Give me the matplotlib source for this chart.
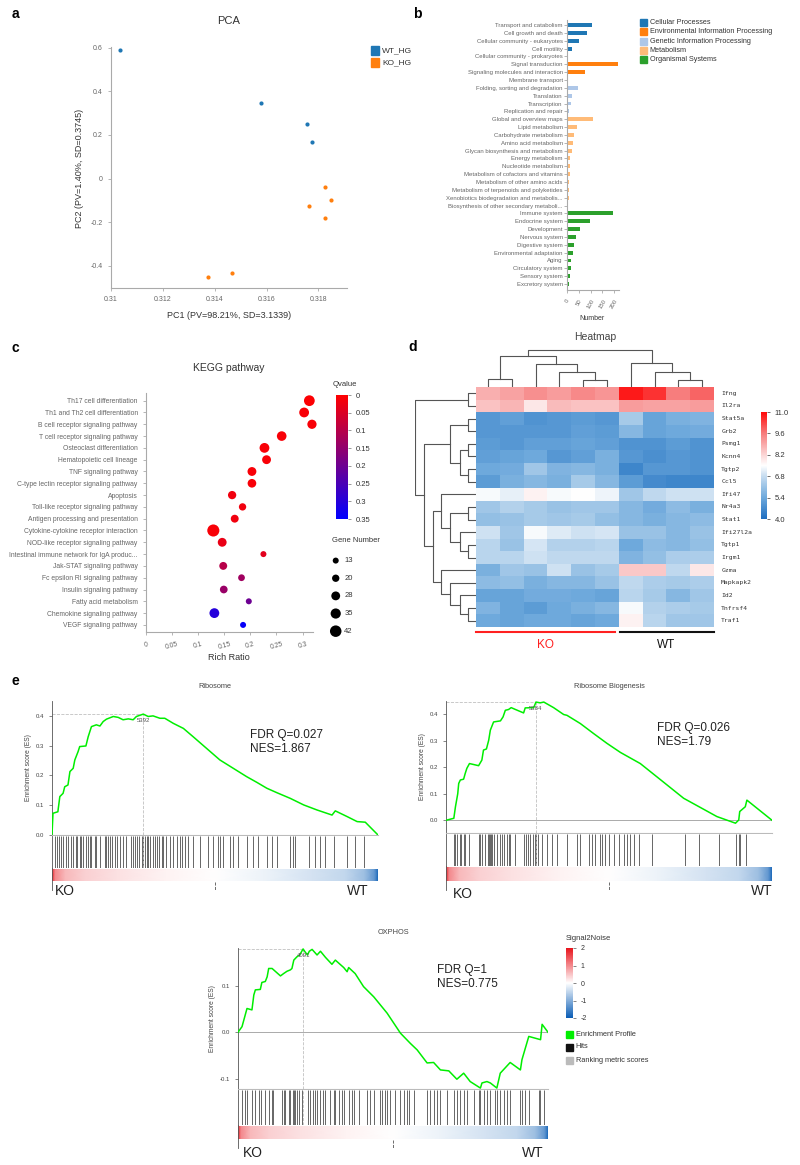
import numpy as np
import matplotlib
matplotlib.use("Agg")
import matplotlib.pyplot as plt
from matplotlib.colors import LinearSegmentedColormap, Normalize
from matplotlib.patches import Rectangle
from matplotlib.lines import Line2D
from matplotlib.cm import ScalarMappable

plt.rcParams['font.family'] = ['Liberation Sans', 'DejaVu Sans']
plt.rcParams['axes.unicode_minus'] = False

# ---------------- data ----------------
# a: PCA
wt_pc1 = [0.31035, 0.31578, 0.31757, 0.31774]
wt_pc2 = [0.588, 0.347, 0.249, 0.167]
ko_pc1 = [0.31825, 0.31848, 0.31763, 0.31825, 0.31375, 0.31465]
ko_pc2 = [-0.040, -0.099, -0.126, -0.179, -0.453, -0.432]
pc1_ticks = [0.31, 0.312, 0.314, 0.316, 0.318]
pc1_labels = ['0.31', '0.312', '0.314', '0.316', '0.318']
pc2_ticks = [-0.4, -0.2, 0, 0.2, 0.4, 0.6]
pc2_labels = ['-0.4', '-0.2', '0', '0.2', '0.4', '0.6']

# b: KEGG level 2 classification
l2_classes = ['Cellular Processes', 'Environmental Information Processing',
              'Genetic Information Processing', 'Metabolism', 'Organismal Systems']
class_colors = ['#1f77b4', '#ff7f0e', '#aec7e8', '#ffbb78', '#2ca02c']
l2_names = ['Transport and catabolism', 'Cell growth and death', 'Cellular community - eukaryotes',
            'Cell motility', 'Cellular community - prokaryotes', 'Signal transduction',
            'Signaling molecules and interaction', 'Membrane transport',
            'Folding, sorting and degradation', 'Translation', 'Transcription',
            'Replication and repair', 'Global and overview maps', 'Lipid metabolism',
            'Carbohydrate metabolism', 'Amino acid metabolism', 'Glycan biosynthesis and metabolism',
            'Energy metabolism', 'Nucleotide metabolism', 'Metabolism of cofactors and vitamins',
            'Metabolism of other amino acids', 'Metabolism of terpenoids and polyketides',
            'Xenobiotics biodegradation and metabolis...', 'Biosynthesis of other secondary metaboli...',
            'Immune system', 'Endocrine system', 'Development', 'Nervous system', 'Digestive system',
            'Environmental adaptation', 'Aging', 'Circulatory system', 'Sensory system',
            'Excretory system']
l2_counts = [107, 85, 50, 21, 2, 216, 77, 5, 46, 21, 18, 10, 109, 42, 28, 24, 21, 14, 13, 13,
             8, 8, 7, 5, 193, 98, 53, 38, 31, 25, 18, 15, 13, 10]
l2_class = [0] * 5 + [1] * 3 + [2] * 4 + [3] * 12 + [4] * 10

# c: KEGG enrichment bubble
kegg_path = ['Th17 cell differentiation', 'Th1 and Th2 cell differentiation',
             'B cell receptor signaling pathway', 'T cell receptor signaling pathway',
             'Osteoclast differentiation', 'Hematopoietic cell lineage', 'TNF signaling pathway',
             'C-type lectin receptor signaling pathway', 'Apoptosis',
             'Toll-like receptor signaling pathway', 'Antigen processing and presentation',
             'Cytokine-cytokine receptor interaction', 'NOD-like receptor signaling pathway',
             'Intestinal immune network for IgA produc...', 'Jak-STAT signaling pathway',
             'Fc epsilon RI signaling pathway', 'Insulin signaling pathway', 'Fatty acid metabolism',
             'Chemokine signaling pathway', 'VEGF signaling pathway']
rich_ratio = [0.313, 0.303, 0.318, 0.260, 0.227, 0.231, 0.203, 0.203, 0.165, 0.185, 0.170,
              0.129, 0.146, 0.225, 0.148, 0.183, 0.149, 0.197, 0.131, 0.186]
qvalue = [0.005, 0.01, 0.01, 0.01, 0.01, 0.01, 0.01, 0.01, 0.02, 0.02, 0.02, 0.01, 0.03, 0.04,
          0.10, 0.13, 0.14, 0.20, 0.30, 0.34]
gene_num = [38, 33, 30, 32, 33, 28, 28, 27, 25, 20, 23, 45, 28, 13, 23, 17, 22, 13, 33, 13]
size_legend = [13, 20, 28, 35, 42]
rich_ticks = [0, 0.05, 0.1, 0.15, 0.2, 0.25, 0.3]
q_ticks = [0, 0.05, 0.1, 0.15, 0.2, 0.25, 0.3, 0.35]

# d: heatmap (6 KO + 4 WT samples)
genes = ['Ifng', 'Il2ra', 'Stat5a', 'Grb2', 'Psmg1', 'Kcnn4', 'Tgtp2', 'Ccl5', 'Ifi47', 'Nr4a3',
         'Stat1', 'Ifi27l2a', 'Tgtp1', 'Irgm1', 'Gzma', 'Mapkapk2', 'Id2', 'Tnfrsf4', 'Traf1']
expr = [
    [8.8, 9.0, 9.3, 9.1, 9.4, 9.2, 10.8, 10.5, 9.6, 9.9],
    [8.5, 8.7, 7.9, 8.6, 8.5, 8.5, 9.1, 9.0, 9.0, 9.1],
    [5.0, 5.2, 4.9, 5.0, 5.1, 5.0, 6.3, 5.3, 5.6, 5.7],
    [5.0, 5.0, 5.0, 5.0, 5.2, 5.1, 5.8, 5.3, 5.4, 5.5],
    [5.1, 5.0, 5.2, 5.2, 5.3, 5.2, 4.9, 4.9, 5.1, 4.9],
    [5.2, 5.3, 5.4, 5.0, 5.2, 5.6, 5.0, 4.8, 5.0, 4.9],
    [5.4, 5.5, 6.2, 5.7, 5.8, 5.6, 4.6, 5.0, 5.0, 4.9],
    [5.1, 5.6, 5.8, 5.6, 6.3, 5.8, 5.1, 4.7, 4.6, 4.6],
    [7.4, 7.2, 7.7, 7.4, 7.5, 7.3, 6.2, 6.7, 6.9, 6.9],
    [6.2, 6.5, 6.3, 6.1, 6.2, 6.2, 5.8, 5.5, 5.9, 5.6],
    [6.0, 6.1, 6.3, 6.2, 6.3, 6.0, 5.8, 5.6, 5.8, 5.9],
    [6.9, 6.2, 7.4, 7.1, 6.9, 7.0, 6.1, 6.1, 5.8, 6.1],
    [6.6, 6.1, 7.0, 6.5, 6.5, 6.6, 5.4, 5.9, 5.8, 6.0],
    [6.6, 6.6, 6.9, 6.7, 6.7, 6.7, 5.7, 6.0, 6.4, 6.4],
    [5.6, 6.2, 6.1, 6.9, 6.1, 6.3, 8.4, 8.4, 6.7, 7.9],
    [5.9, 6.0, 5.6, 5.8, 5.8, 6.1, 6.7, 6.4, 6.3, 6.4],
    [5.3, 5.3, 5.5, 5.5, 5.4, 5.3, 6.6, 6.3, 5.8, 6.2],
    [5.7, 5.3, 5.1, 5.4, 5.6, 5.8, 7.4, 6.5, 6.4, 6.3],
    [5.4, 5.3, 5.4, 5.4, 5.3, 5.4, 7.7, 6.6, 6.2, 6.2],
]
# linkage (left, right, height); new clusters numbered from n upward
row_links = [(0, 1, 23), (2, 3, 23), (4, 5, 23), (6, 7, 23), (21, 22, 48), (20, 23, 76),
             (9, 10, 23), (12, 13, 23), (11, 26, 48), (25, 27, 76), (8, 28, 103),
             (17, 18, 23), (16, 30, 48), (15, 31, 76), (14, 32, 103), (29, 33, 128),
             (24, 34, 153), (19, 35, 180)]
col_links = [(0, 1, 24), (4, 5, 22), (3, 11, 44), (2, 12, 67), (10, 13, 92),
             (8, 9, 22), (7, 15, 44), (6, 16, 72), (14, 17, 110)]
hm_ticks = [4.0, 5.4, 6.8, 8.2, 9.6, 11.0]

# e: GSEA
rank_pos = [0, 0.01, 0.04, 0.1, 0.2, 0.35, 0.5, 0.65, 0.8, 0.9, 0.96, 0.99, 1.0]
rank_s2n = [1.8, 1.0, 0.6, 0.4, 0.25, 0.1, 0.0, -0.15, -0.35, -0.5, -0.8, -1.3, -1.9]

ribo_x = [0, 0.003, 0.018, 0.024, 0.034, 0.039, 0.049, 0.055, 0.065, 0.070, 0.080, 0.085, 0.104,
          0.111, 0.121, 0.136, 0.147, 0.157, 0.167, 0.188, 0.203, 0.218, 0.234, 0.249, 0.259,
          0.280, 0.295, 0.310, 0.331, 0.346, 0.372, 0.403, 0.433, 0.474, 0.515, 0.556, 0.597,
          0.628, 0.659, 0.690, 0.731, 0.772, 0.813, 0.859, 0.869, 0.905, 0.936, 0.961, 1.0]
ribo_es = [0, 0.073, 0.078, 0.129, 0.14, 0.162, 0.168, 0.213, 0.224, 0.252, 0.28, 0.297, 0.299,
           0.33, 0.364, 0.37, 0.366, 0.381, 0.389, 0.398, 0.395, 0.387, 0.39, 0.387, 0.398,
           0.406, 0.398, 0.40, 0.392, 0.392, 0.375, 0.358, 0.33, 0.291, 0.252, 0.224, 0.196,
           0.177, 0.157, 0.142, 0.123, 0.101, 0.084, 0.067, 0.081, 0.062, 0.045, 0.043, 0.0]
ribo_hits = [0.008, 0.015, 0.022, 0.029, 0.034, 0.044, 0.049, 0.059, 0.065, 0.073, 0.077, 0.085,
             0.090, 0.095, 0.103, 0.111, 0.116, 0.121, 0.131, 0.136, 0.147, 0.162, 0.167, 0.172,
             0.177, 0.185, 0.193, 0.198, 0.208, 0.218, 0.228, 0.241, 0.249, 0.254, 0.261, 0.267,
             0.275, 0.280, 0.285, 0.290, 0.295, 0.302, 0.310, 0.316, 0.321, 0.329, 0.336, 0.341,
             0.351, 0.362, 0.372, 0.382, 0.392, 0.398, 0.408, 0.418, 0.433, 0.454, 0.480, 0.495,
             0.510, 0.515, 0.526, 0.546, 0.556, 0.572, 0.597, 0.618, 0.633, 0.659, 0.674, 0.690,
             0.731, 0.739, 0.746, 0.787, 0.807, 0.823, 0.838, 0.864, 0.905, 0.930, 0.956]

bio_x = [0, 0.024, 0.029, 0.036, 0.039, 0.044, 0.054, 0.059, 0.064, 0.072, 0.100, 0.110, 0.115,
         0.124, 0.131, 0.136, 0.146, 0.167, 0.175, 0.182, 0.192, 0.200, 0.213, 0.238, 0.243,
         0.269, 0.276, 0.289, 0.300, 0.330, 0.361, 0.371, 0.412, 0.453, 0.494, 0.535, 0.596,
         0.657, 0.729, 0.831, 0.888, 0.898, 0.901, 0.918, 0.923, 1.0]
bio_es = [0, 0.0075, 0.051, 0.10, 0.139, 0.152, 0.155, 0.177, 0.196, 0.214, 0.206, 0.227, 0.265,
          0.269, 0.302, 0.34, 0.371, 0.375, 0.39, 0.415, 0.418, 0.425, 0.418, 0.405, 0.424,
          0.425, 0.446, 0.443, 0.446, 0.425, 0.399, 0.396, 0.365, 0.327, 0.29, 0.256, 0.214,
          0.154, 0.083, 0.014, -0.011, 0.001, 0.033, 0.051, 0.076, 0.0]
bio_hits = [0.024, 0.029, 0.034, 0.042, 0.046, 0.054, 0.059, 0.070, 0.100, 0.105, 0.110, 0.121,
            0.128, 0.131, 0.134, 0.138, 0.141, 0.146, 0.156, 0.167, 0.172, 0.177, 0.187, 0.193,
            0.197, 0.213, 0.240, 0.246, 0.252, 0.259, 0.266, 0.272, 0.276, 0.282, 0.294, 0.310,
            0.325, 0.340, 0.371, 0.402, 0.412, 0.438, 0.448, 0.458, 0.473, 0.479, 0.489, 0.499,
            0.514, 0.530, 0.547, 0.555, 0.565, 0.576, 0.591, 0.632, 0.734, 0.775, 0.836, 0.890,
            0.898, 0.903, 0.921]

ox_x = [0, 0.013, 0.029, 0.045, 0.051, 0.056, 0.072, 0.077, 0.088, 0.094, 0.099, 0.110, 0.137,
        0.147, 0.158, 0.169, 0.174, 0.180, 0.190, 0.199, 0.210, 0.216, 0.224, 0.230, 0.239,
        0.255, 0.266, 0.282, 0.303, 0.314, 0.341, 0.352, 0.357, 0.378, 0.405, 0.438, 0.481,
        0.524, 0.556, 0.578, 0.610, 0.631, 0.653, 0.680, 0.706, 0.728, 0.749, 0.782, 0.787,
        0.803, 0.814, 0.835, 0.846, 0.878, 0.911, 0.916, 0.938, 0.976, 0.981, 1.0]
ox_es = [0, 0.012, 0.051, 0.048, 0.08, 0.091, 0.092, 0.107, 0.109, 0.119, 0.137, 0.137, 0.121,
         0.126, 0.131, 0.134, 0.137, 0.155, 0.162, 0.166, 0.179, 0.173, 0.166, 0.174, 0.178,
         0.166, 0.174, 0.161, 0.146, 0.155, 0.139, 0.13, 0.139, 0.126, 0.098, 0.076, 0.041,
         -0.002, -0.024, -0.038, -0.066, -0.065, -0.081, -0.083, -0.101, -0.088, -0.106,
         -0.12, -0.109, -0.106, -0.109, -0.12, -0.088, -0.065, -0.081, -0.059, -0.009,
         -0.016, 0.017, 0.0]
ox_hits = [0.013, 0.024, 0.029, 0.045, 0.056, 0.067, 0.074, 0.088, 0.099, 0.110, 0.113, 0.142,
           0.147, 0.153, 0.163, 0.169, 0.177, 0.182, 0.185, 0.190, 0.197, 0.206, 0.225, 0.233,
           0.242, 0.249, 0.255, 0.266, 0.273, 0.282, 0.298, 0.309, 0.314, 0.325, 0.335, 0.343,
           0.357, 0.368, 0.373, 0.389, 0.416, 0.427, 0.438, 0.459, 0.465, 0.475, 0.481, 0.491,
           0.508, 0.524, 0.534, 0.545, 0.551, 0.567, 0.610, 0.620, 0.631, 0.642, 0.653, 0.674,
           0.696, 0.706, 0.717, 0.728, 0.739, 0.760, 0.776, 0.782, 0.792, 0.803, 0.814, 0.830,
           0.835, 0.846, 0.857, 0.868, 0.878, 0.911, 0.916, 0.927, 0.938, 0.970, 0.975, 0.986]

# ---------------- layout helpers ----------------
W, H = 800, 1165
fig = plt.figure(figsize=(W / 100, H / 100), dpi=100)


def add_ax(l, t, r, b):
    return fig.add_axes([l / W, 1 - b / H, (r - l) / W, (b - t) / H])


def ftext(x, y, s, **kw):
    kw.setdefault('ha', 'center')
    kw.setdefault('va', 'center')
    return fig.text(x / W, 1 - y / H, s, **kw)


def square(x, y, size, color, label, fs, gap=3):
    fig.add_artist(Rectangle((x / W, 1 - (y + size / 2) / H), size / W, size / H,
                             color=color, transform=fig.transFigure))
    ftext(x + size + gap, y, label, ha='left', fontsize=fs, color='#333333')


def fline(x0, y0, x1, y1, **kw):
    fig.add_artist(Line2D([x0 / W, x1 / W], [1 - y0 / H, 1 - y1 / H],
                          transform=fig.transFigure, **kw))


def gray_axes(ax, labelsize=5):
    for s in ['top', 'right']:
        ax.spines[s].set_visible(False)
    for s in ['left', 'bottom']:
        ax.spines[s].set_color('#aaaaaa')
        ax.spines[s].set_linewidth(0.8)
    ax.tick_params(colors='#aaaaaa', labelcolor='#666666', labelsize=labelsize,
                   length=2.5, width=0.6)


for lab, x, y in [('a', 12, 14), ('b', 413, 14), ('c', 12, 348), ('d', 408, 347), ('e', 12, 681)]:
    ftext(x, y, lab, ha='left', fontsize=10, fontweight='bold')

# ---------------- a: PCA ----------------
ax = add_ax(111, 47, 347, 288)
ax.scatter(wt_pc1, wt_pc2, s=9, color='#1f77b4', linewidths=0, zorder=3)
ax.scatter(ko_pc1, ko_pc2, s=9, color='#ff7f0e', linewidths=0, zorder=3)
ax.set_xlim(0.31, 0.3191)
ax.set_ylim(-0.502, 0.603)
ax.set_xticks(pc1_ticks)
ax.set_xticklabels(pc1_labels)
ax.set_yticks(pc2_ticks)
ax.set_yticklabels(pc2_labels)
gray_axes(ax, 5)
ftext(229, 21, 'PCA', fontsize=8, color='#333333')
ftext(79, 168, 'PC2 (PV=1.40%, SD=0.3745)', rotation=90, fontsize=6.5, color='#333333')
ftext(229, 316, 'PC1 (PV=98.21%, SD=3.1339)', fontsize=6.5, color='#333333')
square(371, 50.5, 8, '#1f77b4', 'WT_HG', 6)
square(371, 62.5, 8, '#ff7f0e', 'KO_HG', 6)

# ---------------- b: KEGG classification ----------------
ax = add_ax(567, 20, 619, 290)
yy = np.arange(len(l2_names))
ax.barh(yy, l2_counts, height=0.5, color=[class_colors[c] for c in l2_class])
ax.set_ylim(33.76, -0.64)
ax.set_xlim(0, 220)
ax.set_yticks(yy)
ax.set_yticklabels(l2_names)
ax.set_xticks([0, 50, 100, 150, 200])
gray_axes(ax, 4.3)
ax.tick_params(axis='y', length=2, pad=1)
plt.setp(ax.get_xticklabels(), rotation=60, ha='center', va='top')
ftext(592, 318, 'Number', fontsize=5, color='#333333')
for i, name in enumerate(l2_classes):
    square(640, 22.7 + i * 9.25, 7, class_colors[i], name, 5.2, gap=2.5)

# ---------------- c: KEGG enrichment ----------------
q_cmap = LinearSegmentedColormap.from_list('q', ['#ff0000', '#0000ff'])
q_norm = Normalize(0, 0.35)


def bubble(n):
    return ((6 + (n - 13) * 0.19) * 0.72) ** 2


ax = add_ax(146, 393, 313, 632)
yy = np.arange(len(kegg_path))
ax.scatter(rich_ratio, yy, s=[bubble(n) for n in gene_num], c=qvalue, cmap=q_cmap,
           norm=q_norm, linewidths=0, zorder=3, clip_on=False)
ax.set_xlim(0, 0.32)
ax.set_ylim(19.6, -0.65)
ax.set_yticks(yy)
ax.set_yticklabels(kegg_path)
ax.set_xticks(rich_ticks)
ax.set_xticklabels(['0', '0.05', '0.1', '0.15', '0.2', '0.25', '0.3'])
gray_axes(ax, 4.9)
ax.tick_params(axis='x', pad=4)
plt.setp(ax.get_xticklabels(), rotation=15)
ftext(229, 368, 'KEGG pathway', fontsize=7.5, color='#333333')
ftext(229, 658, 'Rich Ratio', fontsize=6.5, color='#333333')

cax = add_ax(336, 395, 348, 519)
cb = fig.colorbar(ScalarMappable(norm=q_norm, cmap=q_cmap), cax=cax, ticks=q_ticks)
cb.outline.set_visible(False)
cax.invert_yaxis()
cax.tick_params(labelsize=5.5, length=2, width=0.6, colors='#888888', labelcolor='#333333')
cax.set_yticklabels(['0', '0.05', '0.1', '0.15', '0.2', '0.25', '0.3', '0.35'])
ftext(345, 384, 'Qvalue', fontsize=5.5, color='#333333')

ftext(356, 540, 'Gene Number', fontsize=5.5, color='#333333')
sax = add_ax(326, 550, 380, 640)
sy = np.arange(len(size_legend))
sax.scatter([0.18] * len(size_legend), sy, s=[bubble(n) for n in size_legend], color='black',
            linewidths=0)
for yv, n in zip(sy, size_legend):
    sax.text(0.34, yv, str(n), va='center', ha='left', fontsize=5.5, color='#333333')
sax.set_xlim(0, 1)
sax.set_ylim(4.5, -0.6)
sax.set_axis_off()

# ---------------- d: heatmap ----------------
hm_cmap = LinearSegmentedColormap.from_list('hm', [(0, '#1e6ec0'), (0.2, '#6ea9dc'),
                                                   (0.4, '#c6dcf0'), (0.5, '#ffffff'),
                                                   (0.6, '#fbd5d5'), (0.8, '#f77d7d'),
                                                   (1.0, '#ff0a0a')])
hm_norm = Normalize(4, 11)
hm = add_ax(476, 387, 714, 627)
hm.imshow(np.array(expr), cmap=hm_cmap, norm=hm_norm, aspect='auto', interpolation='nearest')
hm.set_axis_off()
for i, g in enumerate(genes):
    hm.text(9.8, i, g, ha='left', va='center', fontsize=4.6, family='DejaVu Sans Mono',
            color='#333333')
ftext(595, 337, 'Heatmap', fontsize=7.5, color='#444444')


def dendro(ax, links, n, orient):
    pos = {i: float(i) for i in range(n)}
    hgt = {i: 0.0 for i in range(n)}
    for k, (a, b, h) in enumerate(links):
        xs = [pos[a], pos[a], pos[b], pos[b]]
        ys = [hgt[a], h, h, hgt[b]]
        if orient == 'top':
            ax.plot(xs, ys, color='#555555', lw=0.8)
        else:
            ax.plot(ys, xs, color='#555555', lw=0.8)
        pos[n + k] = (pos[a] + pos[b]) / 2
        hgt[n + k] = h
    ax.set_axis_off()


cd = add_ax(476, 349, 714, 387)
dendro(cd, col_links, 10, 'top')
cd.set_xlim(-0.5, 9.5)
cd.set_ylim(0, 113)
rd = add_ax(415, 387, 476, 627)
dendro(rd, row_links, len(genes), 'left')
rd.set_ylim(len(genes) - 0.5, -0.5)
rd.set_xlim(181, 0)

fline(476, 632, 615, 632, color='#ff2020', lw=1.5)
fline(620, 632, 714, 632, color='#111111', lw=1.5)
ftext(545, 645, 'KO', fontsize=8.5, color='#ff2020')
ftext(666, 645, 'WT', fontsize=8.5, color='#111111')

hcax = add_ax(761, 412, 767, 519)
cb = fig.colorbar(ScalarMappable(norm=hm_norm, cmap=hm_cmap), cax=hcax, ticks=hm_ticks)
cb.outline.set_visible(False)
hcax.set_yticklabels(['4.0', '5.4', '6.8', '8.2', '9.6', '11.0'])
hcax.tick_params(labelsize=5.5, length=2, width=0.6, colors='#555555', labelcolor='#333333')

# ---------------- e: GSEA ----------------
s2n_cmap = LinearSegmentedColormap.from_list('s2n', ['#0a5db5', '#ffffff', '#e8141c'])
s2n_norm = Normalize(-2, 2)


def gsea(box, es_x, es_y, hits, peak, peak_lab, ylim, yticks, title, title_xy, stats, stats_xy,
         ko_xy, wt_xy):
    l, r, t, b_es, b_hit, b_bar = box
    es_ax = add_ax(l, t, r, b_es)
    es_ax.plot(es_x, es_y, color='#00ee00', lw=1.1, zorder=3)
    es_ax.set_xlim(0, 1)
    es_ax.set_ylim(*ylim)
    if ylim[0] < 0:
        es_ax.axhline(0, color='#aaaaaa', lw=0.7)
    es_ax.plot([0, peak[0]], [peak[1], peak[1]], ls='--', color='#c0c0c0', lw=0.6)
    es_ax.plot([peak[0], peak[0]], [ylim[0], peak[1]], ls='--', color='#c0c0c0', lw=0.6)
    es_ax.text(peak[0], peak[1] - (ylim[1] - ylim[0]) * 0.03, peak_lab, fontsize=4.3,
               ha='center', va='top', color='#555555')
    es_ax.set_yticks(yticks)
    es_ax.set_yticklabels(['%.1f' % v for v in yticks])
    es_ax.set_xticks([])
    for s in ['top', 'right']:
        es_ax.spines[s].set_visible(False)
    es_ax.spines['left'].set_color('#555555')
    es_ax.spines['left'].set_linewidth(0.6)
    es_ax.spines['bottom'].set_color('#bbbbbb')
    es_ax.spines['bottom'].set_linewidth(0.8)
    es_ax.tick_params(labelsize=4.3, length=2, width=0.5, colors='#555555', labelcolor='#444444')
    es_ax.set_ylabel('Enrichment score (ES)', fontsize=4.8, color='#444444', labelpad=3)

    hit_ax = add_ax(l, b_es + 1, r, b_hit)
    hit_ax.vlines(hits, 0, 1, color='#2a2a2a', lw=0.5)
    hit_ax.axvline(peak[0], ls='--', color='#c0c0c0', lw=0.6)
    hit_ax.set_xlim(0, 1)
    hit_ax.set_ylim(0, 1)
    hit_ax.set_xticks([])
    hit_ax.set_yticks([])
    for s in ['top', 'right', 'bottom']:
        hit_ax.spines[s].set_visible(False)
    hit_ax.spines['left'].set_color('#555555')
    hit_ax.spines['left'].set_linewidth(0.6)

    bar_ax = add_ax(l, b_hit + 1, r, b_bar)
    n = len(rank_pos)
    bar_ax.pcolormesh(np.array([rank_pos, rank_pos]), np.array([np.zeros(n), np.ones(n)]),
                      np.array([rank_s2n, rank_s2n]), cmap=s2n_cmap, norm=s2n_norm,
                      shading='gouraud')
    bar_ax.set_xlim(0, 1)
    bar_ax.set_ylim(0, 1)
    bar_ax.set_axis_off()

    fline(l, b_hit, l, b_bar + 9, color='#555555', lw=0.6)
    mid = (l + r) / 2
    fline(mid, b_bar + 1, mid, b_bar + 9, color='#555555', lw=0.6, ls='--')
    ftext(title_xy[0], title_xy[1], title, fontsize=5.3, color='#444444')
    ftext(stats_xy[0], stats_xy[1], stats, ha='left', va='top', fontsize=8.5, color='#222222',
          linespacing=1.25)
    ftext(ko_xy[0], ko_xy[1], 'KO', fontsize=10, color='#222222')
    ftext(wt_xy[0], wt_xy[1], 'WT', fontsize=10, color='#222222')


gsea((52, 378, 701, 835, 868, 881), ribo_x, ribo_es, ribo_hits, (0.280, 0.406), '5392',
     (0, 0.45), [0, 0.1, 0.2, 0.3, 0.4], 'Ribosome', (215, 686),
     'FDR Q=0.027\nNES=1.867', (250, 729), (65, 891), (358, 891))
gsea((446, 772, 701, 833, 866, 881), bio_x, bio_es, bio_hits, (0.276, 0.446), '5384',
     (-0.048, 0.45), [0, 0.1, 0.2, 0.3, 0.4], 'Ribosome Biogenesis', (609, 686),
     'FDR Q=0.026\nNES=1.79', (657, 722), (463, 894), (762, 891))
gsea((238, 548, 948, 1089, 1125, 1139), ox_x, ox_es, ox_hits, (0.210, 0.179), '4091',
     (-0.122, 0.181), [-0.1, 0.0, 0.1], 'OXPHOS', (393, 932),
     'FDR Q=1\nNES=0.775', (437, 964), (253, 1153), (533, 1153))

# legend of OXPHOS panel
ftext(566, 938, 'Signal2Noise', ha='left', fontsize=5.5, color='#333333')
scax = add_ax(566, 948, 573, 1018)
cb = fig.colorbar(ScalarMappable(norm=s2n_norm, cmap=s2n_cmap), cax=scax, ticks=[-2, -1, 0, 1, 2])
cb.outline.set_visible(False)
scax.tick_params(labelsize=5, length=2, width=0.5, colors='#555555', labelcolor='#333333')
square(566, 1034, 7, '#00ee00', 'Enrichment Profile', 5.3, gap=2.5)
square(566, 1047, 7, '#111111', 'Hits', 5.3, gap=2.5)
square(566, 1060, 7, '#bbbbbb', 'Ranking metric scores', 5.3, gap=2.5)

fig.savefig('out.png', dpi=100, facecolor='white')
